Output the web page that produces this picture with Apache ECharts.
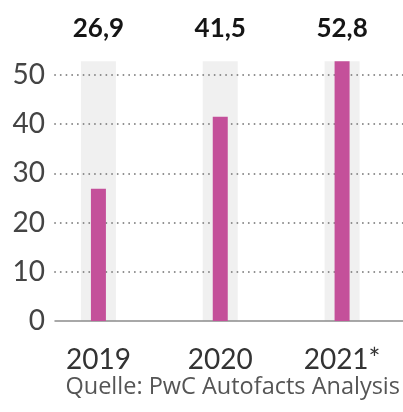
<!DOCTYPE html>
<html>
<head>
<meta charset="utf-8">
<script src="https://cdn.jsdelivr.net/npm/echarts@6/dist/echarts.min.js"></script>
<style>html,body{margin:0;padding:0;background:#fff;}#c{width:403px;height:412px;}</style>
</head>
<body>
<div id="c"></div>
<script>
var categories = ['2019', '2020', '2021*'];
var values = [26.9, 41.5, 52.8];
var yTicks = [0, 10, 20, 30, 40, 50];
var sourceText = 'Quelle: PwC Autofacts Analysis';

var bandMax = Math.max.apply(null, values);
var chart = echarts.init(document.getElementById('c'), null, {renderer: 'canvas'});
var FONT = 'Lato';
chart.setOption({
  animation: false,
  backgroundColor: '#ffffff',
  grid: [
    {left: 55, right: 0, top: 75, bottom: 91},
    {left: 37.5, width: 369, top: 25.8, bottom: 91}
  ],
  xAxis: [
    {gridIndex: 0, type: 'category', data: categories, z: 1,
     axisLine: {show: true, lineStyle: {color: '#8c8c8c', width: 1.5}},
     axisTick: {show: false}, axisLabel: {show: false}, splitLine: {show: false}},
    {gridIndex: 1, type: 'category', data: categories,
     axisLine: {show: false}, axisTick: {show: false},
     axisLabel: {color: '#333', fontSize: 28, fontFamily: FONT, margin: 25}},
    {gridIndex: 1, type: 'category', data: categories, show: false}
  ],
  yAxis: [
    {gridIndex: 0, type: 'value', min: 0, max: 50, interval: 10, z: 1,
     axisLine: {show: false}, axisTick: {show: false},
     axisLabel: {color: '#444', fontSize: 28, fontFamily: FONT, margin: 10,
       formatter: function (v) { return yTicks.indexOf(v) >= 0 ? String(v) : ''; }},
     splitLine: {show: true, showMinLine: false, lineStyle: {color: '#8a8a8a', width: 1.8, type: [0.1, 5.6], cap: 'round'}}},
    {gridIndex: 1, type: 'value', min: 0, max: 60, show: false}
  ],
  series: [
    {type: 'bar', xAxisIndex: 2, yAxisIndex: 1, z: 0, silent: true,
     data: categories.map(function () { return bandMax; }),
     barWidth: 35, itemStyle: {color: '#f0f0f0'},
     label: {show: true, position: 'top', distance: 20, color: '#151515',
       fontSize: 26, fontWeight: 'bold', fontFamily: FONT,
       formatter: function (p) { return values[p.dataIndex].toFixed(1).replace('.', ','); }}},
    {type: 'bar', xAxisIndex: 1, yAxisIndex: 1, z: 2,
     data: values, barWidth: 15,
     itemStyle: {color: '#c4509a'}}
  ],
  graphic: [
    {type: 'text', right: 3, top: 375,
     style: {text: sourceText, fill: '#555', font: '23.5px "Open Sans"'}}
  ]
});
</script>
</body>
</html>
